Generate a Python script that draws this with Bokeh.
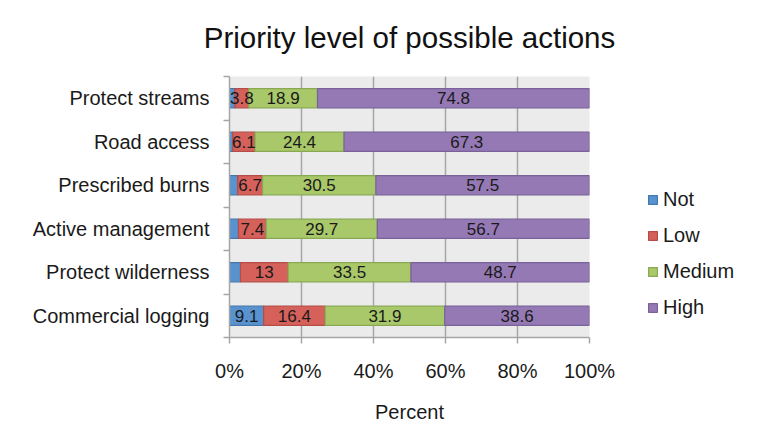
from bokeh.plotting import figure
from bokeh.models import (ColumnDataSource, Range1d, FixedTicker, LabelSet, Legend, LegendItem, LinearAxis)
from bokeh.core.properties import value
from bokeh.embed import file_html
from bokeh.resources import INLINE

# ---- data (top to bottom as shown) ----
categories = ["Protect streams", "Road access", "Prescribed burns",
              "Active management", "Protect wilderness", "Commercial logging"]
not_vals = [1.5, 0.9, 2.2, 2.4, 3.0, 9.1]
low_vals = [3.8, 6.1, 6.7, 7.4, 13.0, 16.4]
med_vals = [18.9, 24.4, 30.5, 29.7, 33.5, 31.9]
high_vals = [74.8, 67.3, 57.5, 56.7, 48.7, 38.6]
series_names = ["Not", "Low", "Medium", "High"]
x_ticks = [0, 20, 40, 60, 80, 100]
title_text = "Priority level of possible actions"

fills = ["#5893cf", "#d6615b", "#a8c86a", "#9579b5"]
lines = ["#4577ad", "#b54c47", "#88a952", "#7a6199"]
FONT = "Liberation Sans"

n = len(categories)
ys = [n - 1 - i + 0.5 for i in range(n)]
series = [not_vals, low_vals, med_vals, high_vals]
totals = [sum(s[i] for s in series) for i in range(n)]
norm = [[s[i] / totals[i] * 100 for i in range(n)] for s in series]
keys = ["not_n", "low_n", "med_n", "high_n"]
data = dict(y=ys)
for k, col in zip(keys, norm):
    data[k] = col
src = ColumnDataSource(data)

p = figure(width=741, height=431, frame_width=360, frame_height=261,
           x_range=Range1d(0, 100), y_range=Range1d(0, n),
           output_backend="svg", toolbar_location=None,
           min_border_left=229, min_border_right=152, min_border_top=76, min_border_bottom=94)

p.background_fill_color = "#ebebeb"
p.border_fill_color = "white"
p.outline_line_color = None

xa = p.below[0]
ya = p.left[0]

# title drawn as the label of an otherwise empty top axis
tax = LinearAxis(axis_label=title_text, ticker=FixedTicker(ticks=[]),
                 axis_line_color=None, major_tick_line_color=None, minor_tick_line_color=None,
                 major_label_text_font_size="0px", major_label_standoff=0,
                 major_tick_out=0, major_tick_in=0,
                 axis_label_standoff=23, axis_label_text_font=FONT,
                 axis_label_text_font_size="29.5px", axis_label_text_font_style="normal",
                 axis_label_text_color="#111111")
p.add_layout(tax, "above")

renderers = p.hbar_stack(keys, y="y", height=0.44, source=src,
                         fill_color=fills, line_color=lines, line_width=1.2)

# data labels
cum = [0.0] * n
for si, (k, col, raw) in enumerate(zip(keys, norm, series)):
    xs, ts, yy = [], [], []
    for i in range(n):
        c = cum[i] + col[i] / 2
        cum[i] += col[i]
        if si == 0 and raw[i] < 5:
            continue
        xs.append(c)
        ts.append("%g" % raw[i])
        yy.append(ys[i])
    ls = LabelSet(x="x", y="y", text="t", source=ColumnDataSource(dict(x=xs, y=yy, t=ts)),
                  text_align="center", text_baseline="middle", text_font=value(FONT),
                  text_font_size="17px", text_color="#1a1a1a")
    p.add_layout(ls)

# axes
xa.ticker = FixedTicker(ticks=x_ticks)
xa.major_label_overrides = {t: "%d%%" % t for t in x_ticks}
xa.axis_label = "Percent"
xa.axis_label_text_font = FONT
xa.axis_label_text_font_size = "20px"
xa.axis_label_text_font_style = "normal"
xa.axis_label_text_color = "#1a1a1a"
xa.axis_label_standoff = 16
xa.major_label_text_font = FONT
xa.major_label_text_font_size = "20px"
xa.major_label_text_color = "#1a1a1a"
xa.major_label_standoff = 16
xa.axis_line_color = "#a6a6a6"
xa.axis_line_width = 1.5
xa.major_tick_line_color = "#a6a6a6"
xa.major_tick_line_width = 1.5
xa.major_tick_out = 6
xa.major_tick_in = 0
xa.minor_tick_line_color = None

ya.ticker = FixedTicker(ticks=ys, minor_ticks=list(range(n + 1)))
ya.major_label_overrides = {y: c for y, c in zip(ys, categories)}
ya.major_label_text_font = FONT
ya.major_label_text_font_size = "20px"
ya.major_label_text_color = "#1a1a1a"
ya.major_label_standoff = 14
ya.major_tick_line_color = None
ya.major_tick_out = 0
ya.major_tick_in = 0
ya.minor_tick_line_color = "#a6a6a6"
ya.minor_tick_line_width = 1.5
ya.minor_tick_out = 6
ya.minor_tick_in = 0
ya.axis_line_color = "#a6a6a6"
ya.axis_line_width = 1.5

p.xgrid.ticker = FixedTicker(ticks=x_ticks[1:])
p.xgrid.grid_line_color = "#a6a6a6"
p.xgrid.grid_line_width = 1.5
p.ygrid.grid_line_color = None

legend = Legend(items=[LegendItem(label=nm, renderers=[r]) for nm, r in zip(series_names, renderers)],
                location=(58, 18), orientation="vertical",
                glyph_width=11, glyph_height=11, label_height=24, label_standoff=5,
                spacing=12, padding=0, margin=0,
                label_text_font=FONT, label_text_font_size="20px", label_text_color="#1a1a1a",
                border_line_color=None, background_fill_alpha=0)
p.add_layout(legend, "right")

open("out.html", "w").write(file_html(p, INLINE))
